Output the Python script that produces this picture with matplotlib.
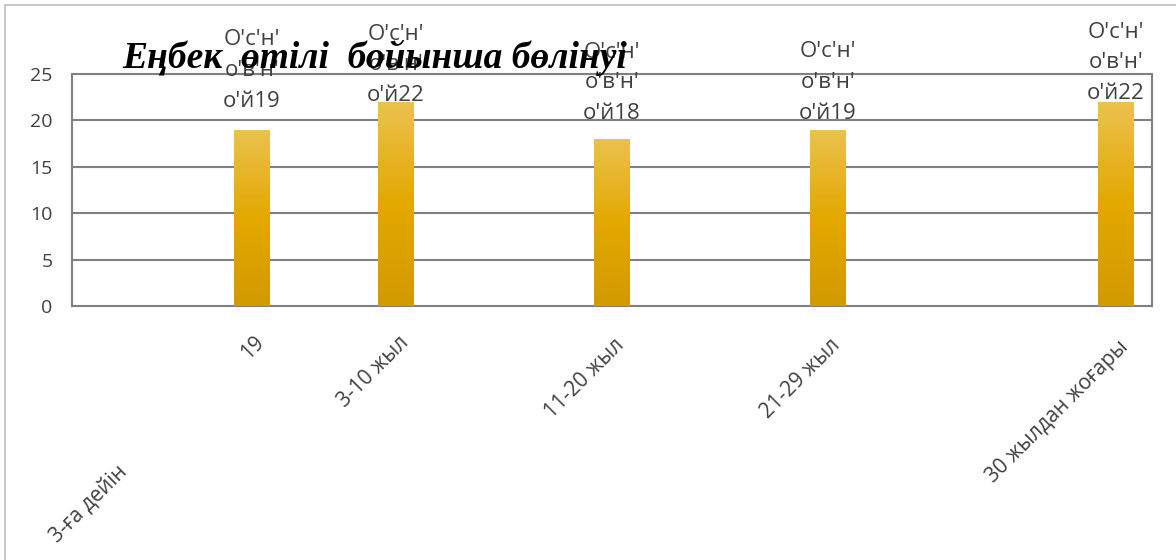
import numpy as np
import matplotlib
matplotlib.use('Agg')
import matplotlib.pyplot as plt
from matplotlib.colors import LinearSegmentedColormap
from matplotlib.lines import Line2D

# Дані діаграми
categories = ['3-ға дейін', '19', '3-10 жыл', '11-20 жыл', '21-29 жыл', '30 жылдан жоғары']
cat_pos = [0.6, 2.5, 4.5, 7.5, 10.5, 14.5]
bar_pos = [2.5, 4.5, 7.5, 10.5, 14.5]
values = [19, 22, 18, 19, 22]
bar_labels = ["O'c'н'\no'в'н'\no'й19", "O'c'н'\no'в'н'\no'й22", "O'c'н'\no'в'н'\no'й18",
              "O'c'н'\no'в'н'\no'й19", "O'c'н'\no'в'н'\no'й22"]
yticks = [0, 5, 10, 15, 20, 25]
title = 'Еңбек  өтілі  бойынша бөлінуі'

# зсуви підписів (пікселі)
label_dy = [18, -4, 15, 6, -2]
cat_dx = [2, 2, 2, 2, 2, 2]
cat_dy = [-156, -26, -26, -29, -29, -31]

sans = ['Open Sans', 'DejaVu Sans']
grid_col = '#808080'

fig = plt.figure(figsize=(11.76, 5.6), dpi=100)
ax = fig.add_axes([72 / 1176, 1 - 306 / 560, (1152 - 72) / 1176, (306 - 74) / 560])

# стовпці з градієнтом
cmap = LinearSegmentedColormap.from_list('gold', ['#D39A00', '#E3A800', '#EBC24F'])
grad = np.linspace(0, 1, 256).reshape(-1, 1)
bars = ax.bar(bar_pos, values, width=0.5, color='none', edgecolor='none', zorder=3)
for rect in bars:
    x0, w, h = rect.get_x(), rect.get_width(), rect.get_height()
    im = ax.imshow(grad, extent=[x0, x0 + w, 0, h], origin='lower', cmap=cmap,
                   aspect='auto', zorder=3)
    im.set_clip_path(rect)

ax.set_xlim(0, 15)
ax.set_ylim(0, 25)
ax.set_yticks(yticks)
ax.set_xticks([])
ax.tick_params(axis='y', length=0, pad=14, labelsize=14, labelcolor='#404040')
for lab in ax.get_yticklabels():
    lab.set_family(sans)

for y in yticks[1:]:
    ax.axhline(y, color=grid_col, lw=1.5, zorder=1)
for s in ax.spines.values():
    s.set_color(grid_col)
    s.set_linewidth(1.5)

# підписи даних
for x, v, txt, dy in zip(bar_pos, values, bar_labels, label_dy):
    ax.annotate(txt, (x, v), xytext=(0, dy), textcoords='offset pixels',
                ha='center', va='bottom', fontsize=16, color='#404040',
                family=sans, linespacing=1.6, annotation_clip=False, zorder=4)

# підписи категорій
for x, txt, dx, dy in zip(cat_pos, categories, cat_dx, cat_dy):
    ax.annotate(txt, (x, 0), xytext=(dx, dy), textcoords='offset pixels',
                ha='right', va='top', rotation=45, rotation_mode='anchor',
                fontsize=15, color='#404040', family=sans, annotation_clip=False)

fig.text(122 / 1176, 1 - 58 / 560, title, fontsize=27, fontweight='bold', fontstyle='italic',
         family=['Liberation Serif', 'DejaVu Serif'], va='center', ha='left', zorder=5)

# рамка
fig.add_artist(Line2D([5 / 1176, 5 / 1176], [0, 1 - 5 / 560], color='#BFBFBF', lw=1.2))
fig.add_artist(Line2D([5 / 1176, 1], [1 - 5 / 560, 1 - 5 / 560], color='#BFBFBF', lw=1.2))

fig.savefig('out.png', dpi=100)
